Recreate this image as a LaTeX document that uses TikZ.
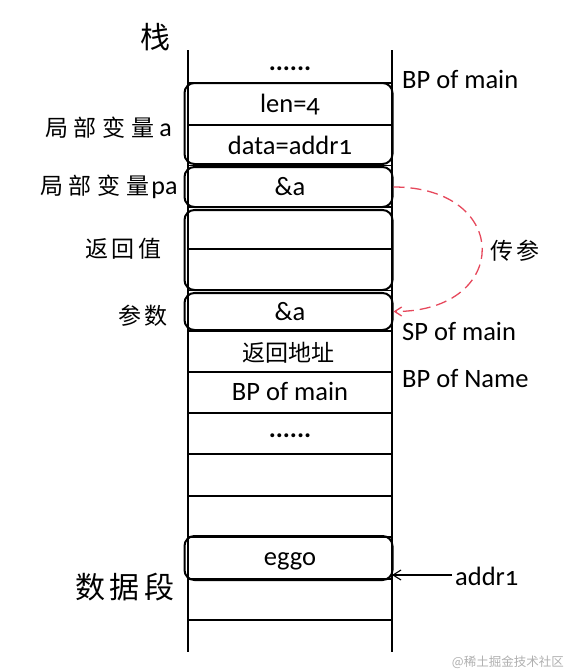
\documentclass[tikz,border=0pt]{standalone}
\usepackage{fontspec}
\setmainfont{Carlito}[Numbers=OldStyle]
\newfontfamily\cjk{Noto Sans CJK SC}
\newfontfamily\cjksp{Noto Sans CJK SC}[LetterSpace=15]
\newfontfamily\cjkwide{Noto Sans CJK SC}[LetterSpace=25]
\usetikzlibrary{arrows.meta}
\definecolor{arcred}{RGB}{230,72,92}
\definecolor{wmgray}{RGB}{175,175,175}
\tikzset{
  lab/.style={font=\fontsize{26.5}{30}\selectfont, inner sep=0pt, anchor=base},
  rlab/.style={font=\fontsize{26.5}{30}\selectfont, inner sep=0pt, anchor=base west},
  cjklab/.style={font=\cjksp\fontsize{23}{28}\selectfont, inner sep=0pt, anchor=west},
  membox/.style={draw, line width=2pt, rounded corners=10pt, minimum width=208pt, inner sep=0pt},
  rowline/.style={line width=1.1pt},
  colline/.style={line width=1.2pt},
}
\begin{document}
\begin{tikzpicture}[x=1pt,y=-1pt]
\useasboundingbox (0,0) rectangle (566,672);
% column
\coordinate (ctl) at (188,50);
\coordinate (cbl) at (188,652);
\coordinate (ctr) at (392,50);
\coordinate (cbr) at (392,652);
\draw[colline] (ctl) -- (cbl);
\draw[colline] (ctr) -- (cbr);
\foreach \y in {83,125,165.5,207,249,290.5,331,372,413,454,496,537,579,620}
  \draw[rowline] (188,\y) -- (392,\y);
% boxes
\node[membox, minimum height=81pt] (b1) at (288.5,123.5) {};
\node[membox, minimum height=40pt] (b2) at (288.5,187) {};
\node[membox, minimum height=80pt] (b3) at (288.5,250) {};
\node[membox, minimum height=37pt] (b4) at (288.5,311.5) {};
\node[membox, minimum height=44pt] (b5) at (288.5,558) {};
% texts inside column
\node[lab] (t0) at (290,70) {\textbf{......}};
\node[lab] (t1) at (290,112) {len=4};
\node[lab] (t2) at (290,154) {data=addr1};
\node[lab] (t3) at (290,195) {\&a};
\node[lab] (t4) at (290,320) {\&a};
\node[font=\cjk\fontsize{23}{28}\selectfont, inner sep=0pt] (t5) at (288,353) {返回地址};
\node[lab] (t6) at (290,400) {BP of main};
\node[lab] (t7) at (290,437) {\textbf{......}};
\node[lab] (t8) at (290,565) {eggo};
% right labels
\node[rlab] (r1) at (402,88) {BP of main};
\node[rlab] (r2) at (402,340) {SP of main};
\node[rlab] (r3) at (402,387) {BP of Name};
\node[rlab] (r4) at (455,585) {addr1};
% left labels
\node[font=\cjk\fontsize{30}{34}\selectfont, inner sep=0pt] (l0) at (155,37) {栈};
\node[cjklab, font=\cjkwide\fontsize{23}{28}\selectfont] (l1) at (45,128) {局部变量\hspace{5pt}{\rmfamily\fontsize{26}{30}\selectfont a}};
\node[cjklab, font=\cjkwide\fontsize{23}{28}\selectfont] (l2) at (40,187) {局部变量\hspace{2pt}{\rmfamily\fontsize{26}{30}\selectfont pa}};
\node[cjklab] (l3) at (85,249) {返回值};
\node[cjklab] (l4) at (118,316) {参数};
\node[cjklab, font=\cjksp\fontsize{30}{34}\selectfont] (l5) at (75,587) {数据段};
\node[cjklab] (l6) at (490,251) {传参};
% connectors
\draw[arcred, line width=1.3pt, dash pattern=on 11pt off 6pt, -{Straight Barb[length=7pt,width=9pt]}]
  (b2.east) .. controls +(118,0) and +(118,0) .. (b4.east);
\coordinate (a5) at (392,575);
\draw[line width=1.1pt, -{Straight Barb[length=8pt,width=10pt]}] (r4.west |- a5) ++(-3,0) -- (a5);
% watermark
\node[font=\cjk\fontsize{12.5}{14}\selectfont, text=wmgray, inner sep=0pt, anchor=east] (wm) at (564,662) {@稀土掘金技术社区};
\end{tikzpicture}
\end{document}
